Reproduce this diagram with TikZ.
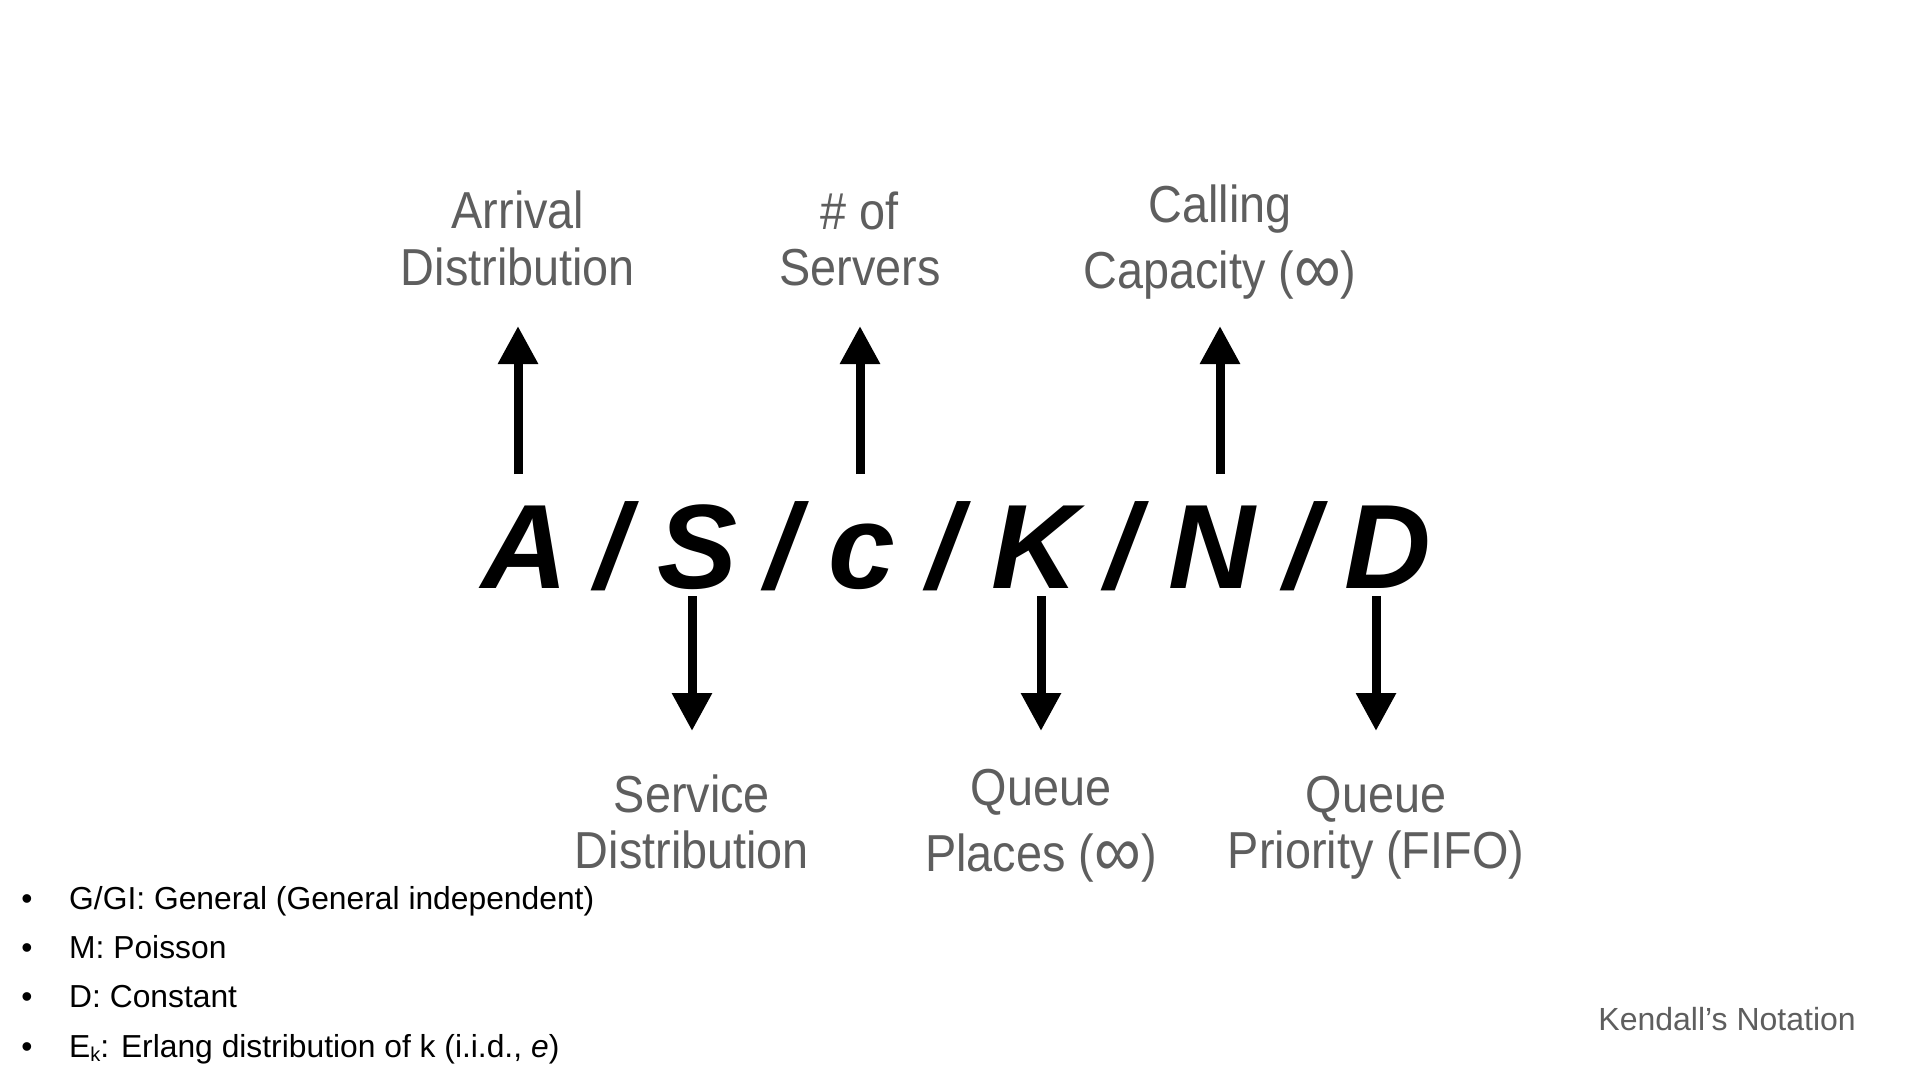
\documentclass[tikz,border=0pt]{standalone}
\usepackage{fontspec}
\usepackage{graphicx}
\setmainfont{Liberation Sans}
\newfontfamily\labelfont[FakeStretch=0.9]{Liberation Sans}
\usetikzlibrary{arrows.meta}
\definecolor{labelgray}{HTML}{5E5E5E}
\newcommand{\infsym}{\raisebox{-5pt}{\scalebox{1.4}{∞}}}
\tikzset{
  lab/.style={font=\labelfont\fontsize{52}{60}\selectfont, text=labelgray, anchor=base, inner sep=0pt},
  glyph/.style={font=\bfseries\itshape\fontsize{120}{120}\selectfont, anchor=base, inner sep=0pt},
  arr/.style={line width=9pt, -{Triangle[length=38pt,width=38pt]}},
  item/.style={font=\fontsize{31.8}{31.8}\selectfont, anchor=base west, inner sep=0pt},
  dot/.style={font=\fontsize{31.8}{31.8}\selectfont, anchor=base, inner sep=0pt},
  caption/.style={font=\fontsize{32}{32}\selectfont, text=labelgray, anchor=base east, inner sep=0pt},
}
\begin{document}
\begin{tikzpicture}[x=1pt, y=-1pt]
  \fill[white] (0,0) rectangle (1920,1080);
  \path[use as bounding box] (0,0) rectangle (1920,1080);

  % the notation A / S / c / K / N / D
  \node[glyph] (lA) at (525,588) {A};
  \node[glyph] (s1) at (612,588) {/};
  \node[glyph] (lS) at (698,588) {S};
  \node[glyph] (s2) at (782,588) {/};
  \node[glyph] (lc) at (862,588) {c};
  \node[glyph] (s3) at (944,588) {/};
  \node[glyph] (lK) at (1035,588) {K};
  \node[glyph] (s4) at (1122,588) {/};
  \node[glyph] (lN) at (1212,588) {N};
  \node[glyph] (s5) at (1301,588) {/};
  \node[glyph] (lD) at (1388,588) {D};

  % labels above
  \node[lab] (arr1) at (518,228) {Arrival};
  \node[lab] (arr2) at (518,285) {Distribution};
  \node[lab] (srv1) at (860,229) {\# of};
  \node[lab] (srv2) at (860,285) {Servers};
  \node[lab] (cap1) at (1220,222) {Calling};
  \node[lab] (cap2) at (1220,288) {Capacity (\infsym)};

  % labels below
  \node[lab] (svc1) at (692,812) {Service};
  \node[lab] (svc2) at (692,868) {Distribution};
  \node[lab] (que1) at (1041,805) {Queue};
  \node[lab] (que2) at (1041,871) {Places (\infsym)};
  \node[lab] (pri1) at (1376,812) {Queue};
  \node[lab] (pri2) at (1376,868) {Priority (FIFO)};

  % arrow end points
  \coordinate (tA) at (518,474);  \coordinate (hA) at (518,326);
  \coordinate (tc) at (860,474);  \coordinate (hc) at (860,326);
  \coordinate (tN) at (1220,474); \coordinate (hN) at (1220,326);
  \coordinate (tS) at (692,596);  \coordinate (hS) at (692,731);
  \coordinate (tK) at (1041,596); \coordinate (hK) at (1041,731);
  \coordinate (tD) at (1376,596); \coordinate (hD) at (1376,731);

  \draw[arr] (tA) -- (hA);
  \draw[arr] (tc) -- (hc);
  \draw[arr] (tN) -- (hN);
  \draw[arr] (tS) -- (hS);
  \draw[arr] (tK) -- (hK);
  \draw[arr] (tD) -- (hD);

  % legend of distribution symbols
  \node[dot] (b1) at (27,909) {•};
  \node[item] (i1) at (69,909) {G/GI: General (General independent)};
  \node[dot] (b2) at (27,958) {•};
  \node[item] (i2) at (69,958) {M: Poisson};
  \node[dot] (b3) at (27,1007) {•};
  \node[item] (i3) at (69,1007) {D: Constant};
  \node[dot] (b4) at (27,1057) {•};
  \node[item] (i4) at (69,1057) {E\raisebox{-4pt}{\fontsize{20}{20}\selectfont k}: Erlang distribution of k (i.i.d., \textit{e})};

  \node[caption] (title) at (1856,1030) {Kendall’s Notation};
\end{tikzpicture}
\end{document}
